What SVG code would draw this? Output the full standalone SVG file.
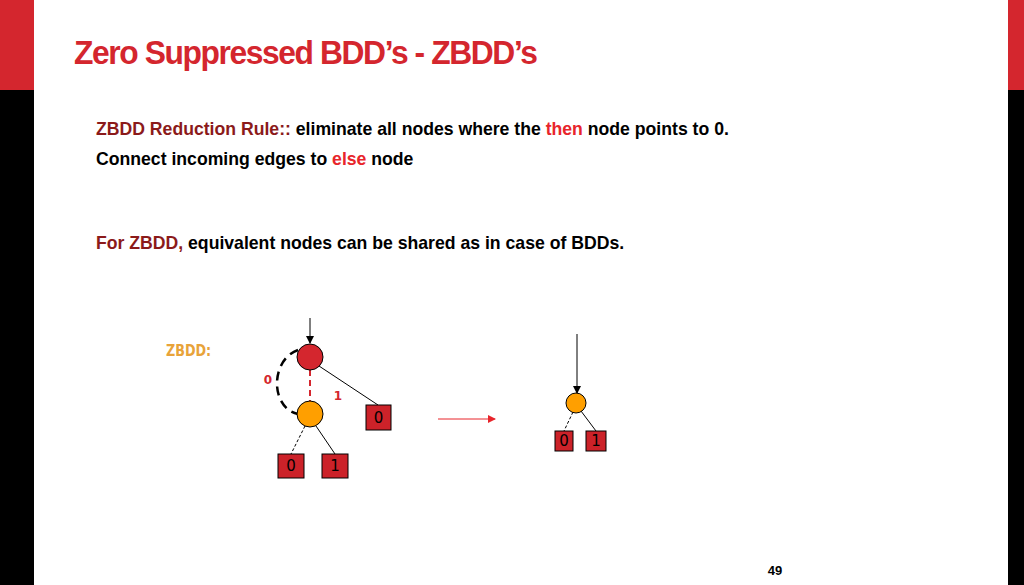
<svg xmlns="http://www.w3.org/2000/svg" width="1024" height="585" viewBox="0 0 1024 585">
<style>
.t{font-family:"Liberation Sans",Arial,sans-serif;font-weight:bold;font-size:18px;fill:#000}
.r{fill:#e8252b}.d{fill:#8b1a1a}
.leaf{fill:#cc2229;stroke:#000;stroke-width:1}
.lt{font-family:"DejaVu Sans",sans-serif;font-size:15px;fill:#000;text-anchor:middle}
.e{stroke:#000;stroke-width:1;fill:none}
</style>
<defs>
<marker id="ab" markerWidth="8" markerHeight="8" refX="7" refY="4" orient="auto" markerUnits="userSpaceOnUse"><path d="M0,0 L8,4 L0,8z" fill="#000"/></marker>
<marker id="ar" markerWidth="8" markerHeight="8" refX="7" refY="4" orient="auto" markerUnits="userSpaceOnUse"><path d="M0,0 L8,4 L0,8z" fill="#e8252b"/></marker>
</defs>
<rect width="1024" height="585" fill="#fff"/>
<rect x="0" y="0" width="34" height="90" fill="#d4262e"/>
<rect x="0" y="90" width="34" height="495" fill="#000"/>
<rect x="1008" y="0" width="16" height="90" fill="#d4262e"/>
<rect x="1008" y="90" width="16" height="495" fill="#000"/>
<text x="74" y="64" font-family="Liberation Sans,Arial,sans-serif" font-weight="bold" font-size="34" fill="#d4262e" letter-spacing="-1.5" transform="translate(74 0) scale(0.935 1) translate(-74 0)">Zero Suppressed BDD’s - ZBDD’s</text>
<text class="t" x="96" y="135" transform="translate(96 0) scale(0.98 1) translate(-96 0)"><tspan class="d">ZBDD Reduction Rule::</tspan> eliminate all nodes where the <tspan class="r">then</tspan> node points to 0.</text>
<text class="t" x="96" y="165" transform="translate(96 0) scale(0.98 1) translate(-96 0)">Connect incoming edges to <tspan class="r">else</tspan> node</text>
<text class="t" x="96" y="249" transform="translate(96 0) scale(0.98 1) translate(-96 0)"><tspan class="d">For ZBDD,</tspan> equivalent nodes can be shared as in case of BDDs.</text>
<text x="166" y="356" font-family="DejaVu Sans,sans-serif" font-weight="bold" font-size="15" fill="#e8a33a" transform="translate(166 0) scale(0.85 1) translate(-166 0)">ZBDD:</text>
<g id="connectors">
<line class="e" x1="310" y1="318" x2="310" y2="343" marker-end="url(#ab)"/>
<line x1="310" y1="370" x2="310" y2="401" stroke="#d4262e" stroke-width="2" stroke-dasharray="6,4"/>
<path d="M298,350 C270,360 270,408 298,414" fill="none" stroke="#000" stroke-width="2.5" stroke-dasharray="9,6"/>
<line class="e" x1="319" y1="366" x2="378" y2="405"/>
<line class="e" x1="305" y1="426" x2="291" y2="454" stroke-dasharray="3,2"/>
<line class="e" x1="316" y1="426" x2="335" y2="454"/>
<line x1="438" y1="419" x2="495" y2="419" stroke="#e8252b" stroke-width="1" marker-end="url(#ar)"/>
<line class="e" x1="577" y1="334" x2="577" y2="393" marker-end="url(#ab)"/>
<line class="e" x1="573" y1="412" x2="564" y2="431" stroke-dasharray="3,2"/>
<line class="e" x1="581" y1="411" x2="596" y2="431"/>
</g>
<text x="268" y="384" font-family="DejaVu Sans,sans-serif" font-weight="bold" font-size="12" fill="#d4262e" text-anchor="middle">0</text>
<text x="338" y="400" font-family="DejaVu Sans,sans-serif" font-weight="bold" font-size="12" fill="#d4262e" text-anchor="middle">1</text>
<g id="n1"><circle cx="310" cy="357" r="13" fill="#d4262e" stroke="#000"/></g>
<g id="n2"><circle cx="310" cy="414" r="13" fill="#ff9f00" stroke="#000"/></g>
<g id="l0a"><rect class="leaf" x="366" y="405" width="25" height="25"/><text class="lt" x="378.5" y="423">0</text></g>
<g id="l0b"><rect class="leaf" x="278" y="454" width="26" height="24"/><text class="lt" x="291" y="471">0</text></g>
<g id="l1b"><rect class="leaf" x="322" y="454" width="26" height="24"/><text class="lt" x="335" y="471">1</text></g>
<g id="n3"><circle cx="576" cy="403" r="10" fill="#ff9f00" stroke="#000"/></g>
<g id="l0c"><rect class="leaf" x="555" y="431" width="18" height="20"/><text class="lt" x="564" y="446">0</text></g>
<g id="l1c"><rect class="leaf" x="586" y="431" width="20" height="20"/><text class="lt" x="596" y="446">1</text></g>
<text x="775" y="575" font-family="Liberation Sans,Arial,sans-serif" font-weight="bold" font-size="13" fill="#000" text-anchor="middle">49</text>
</svg>
